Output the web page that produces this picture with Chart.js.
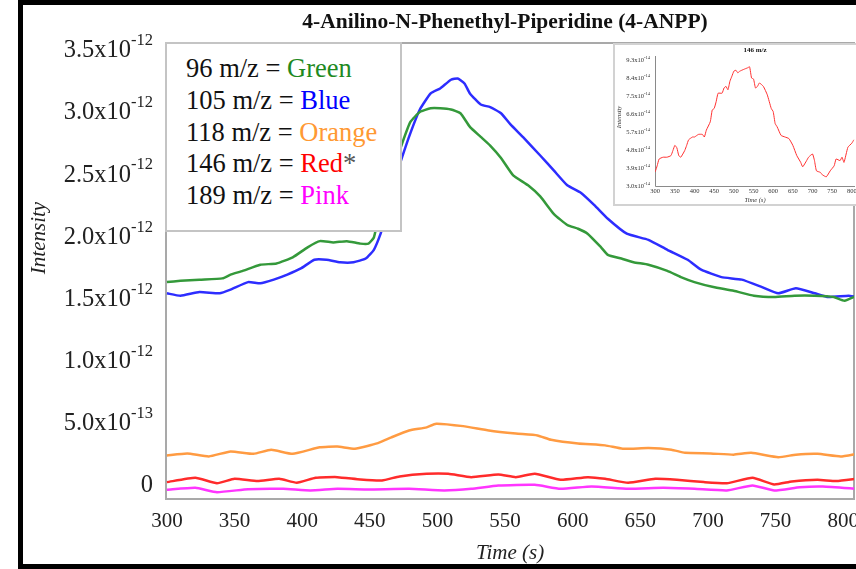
<!DOCTYPE html>
<html>
<head>
<meta charset="utf-8">
<script src="https://cdn.jsdelivr.net/npm/chart.js@4.4.1/dist/chart.umd.min.js"></script>
<style>
  html, body { margin: 0; padding: 0; background: #fff; overflow: hidden; }
  #wrap { position: relative; width: 856px; height: 569px; overflow: hidden; }
  #frame { position: absolute; left: 18px; top: 0px; width: 900px; height: 559px; border: 5px solid #000; }
  #main { position: absolute; left: 0; top: 0; }
  #key { position: absolute; left: 165px; top: 42px; width: 233px; height: 177px; border: 2px solid #c4c4c4; background: #fff;
         font-family: 'Liberation Serif', serif; font-size: 26.5px; color: #111; padding-top: 9px; box-sizing: content-box; }
  #key div { margin-left: 19px; line-height: 31.8px; height: 31.8px; white-space: nowrap; }
  #inset { position: absolute; left: 613px; top: 43px; width: 241px; height: 159px; border: 2px solid #d2d2d2; background: #fff; }
</style>
</head>
<body>
<div id="wrap">
  <canvas id="main" width="856" height="569"></canvas>
  <div id="frame"></div>
  <div id="key"></div>
  <div id="inset"><canvas id="small" width="241" height="159"></canvas></div>
</div>
<script>
// values, intensity in units of 1e-12
const t96 = [300, 310, 324, 341, 347, 356, 369, 381, 393, 404, 413, 423, 433, 443, 449, 453, 456, 462, 468, 474, 480, 487, 495, 502, 510, 517, 524, 532, 539, 547, 556, 567, 576, 586, 596, 604, 611, 621, 626, 636, 645, 656, 670, 680, 690, 704, 719, 734, 749, 764, 779, 793, 801, 810];
const i96 = [1.63, 1.64, 1.65, 1.66, 1.69, 1.72, 1.77, 1.78, 1.83, 1.91, 1.96, 1.95, 1.96, 1.94, 1.94, 1.99, 2.13, 2.30, 2.55, 2.75, 2.92, 3.00, 3.03, 3.03, 3.02, 2.99, 2.88, 2.80, 2.73, 2.63, 2.49, 2.41, 2.32, 2.18, 2.09, 2.06, 2.02, 1.91, 1.85, 1.82, 1.79, 1.77, 1.72, 1.67, 1.63, 1.59, 1.56, 1.52, 1.51, 1.52, 1.52, 1.51, 1.48, 1.52];

const t105 = [300, 310, 324, 339, 347, 360, 369, 379, 389, 399, 409, 418, 428, 438, 447, 453, 458, 461, 467, 474, 480, 487, 495, 502, 510, 515, 520, 524, 532, 539, 547, 554, 564, 576, 586, 596, 606, 616, 626, 640, 656, 670, 685, 695, 710, 725, 740, 752, 765, 779, 789, 804, 810];
const i105 = [1.54, 1.52, 1.55, 1.54, 1.57, 1.63, 1.62, 1.65, 1.69, 1.74, 1.81, 1.81, 1.79, 1.79, 1.82, 1.89, 2.02, 2.13, 2.40, 2.64, 2.83, 3.02, 3.15, 3.19, 3.26, 3.27, 3.23, 3.15, 3.06, 3.04, 2.99, 2.90, 2.79, 2.65, 2.53, 2.41, 2.35, 2.25, 2.14, 2.02, 1.97, 1.89, 1.81, 1.73, 1.67, 1.65, 1.59, 1.54, 1.58, 1.54, 1.51, 1.52, 1.51];

const t118 = [300, 315, 331, 347, 364, 377, 393, 413, 426, 439, 456, 466, 479, 492, 499, 519, 538, 558, 574, 584, 604, 624, 637, 656, 673, 683, 702, 719, 732, 752, 765, 781, 798, 810];
const i118 = [0.234, 0.25, 0.226, 0.266, 0.247, 0.28, 0.247, 0.30, 0.306, 0.288, 0.333, 0.38, 0.435, 0.46, 0.49, 0.47, 0.435, 0.41, 0.395, 0.36, 0.33, 0.315, 0.288, 0.293, 0.28, 0.255, 0.25, 0.24, 0.255, 0.22, 0.24, 0.247, 0.226, 0.247];

const t146 = [300, 321, 337, 350, 367, 383, 396, 410, 426, 443, 459, 472, 492, 508, 525, 545, 558, 572, 591, 611, 624, 641, 661, 677, 697, 714, 733, 749, 762, 781, 795, 810];
const i146 = [0.019, 0.054, 0.01, 0.046, 0.027, 0.046, 0.014, 0.054, 0.059, 0.04, 0.032, 0.065, 0.086, 0.086, 0.059, 0.081, 0.059, 0.086, 0.038, 0.059, 0.046, 0.014, 0.046, 0.038, 0.019, 0.01, 0.054, 0, 0.024, 0.038, 0.027, 0.046];

const t189 = [300, 321, 337, 360, 386, 406, 426, 449, 479, 505, 525, 545, 572, 591, 614, 641, 667, 690, 714, 733, 749, 768, 785, 810];
const i189 = [-0.043, -0.027, -0.062, -0.038, -0.035, -0.048, -0.035, -0.04, -0.035, -0.048, -0.035, -0.008, -0.003, -0.035, -0.016, -0.035, -0.027, -0.035, -0.048, -0.008, -0.048, -0.022, -0.016, -0.035];

// inset: 146 m/z alone, intensity in units of 1e-14
const tInset = [300, 305, 310, 320, 330, 340, 345, 350, 355, 360, 365, 375, 380, 385, 395, 400, 410, 420, 425, 430, 440, 445, 450, 455, 460, 470, 475, 480, 485, 490, 495, 500, 505, 510, 515, 525, 535, 540, 545, 550, 555, 560, 565, 575, 585, 595, 600, 605, 610, 620, 630, 640, 650, 660, 670, 675, 685, 690, 700, 705, 710, 720, 725, 735, 745, 755, 760, 770, 775, 780, 790, 800, 805];
const iInset = [3.71, 4.01, 4.35, 4.44, 4.44, 4.52, 4.77, 5.03, 4.91, 4.52, 4.44, 4.77, 5.03, 5.31, 5.45, 5.45, 5.58, 5.58, 5.45, 5.79, 6.21, 6.80, 6.88, 7.22, 7.64, 7.64, 7.90, 7.98, 7.81, 8.24, 8.49, 8.74, 8.79, 8.66, 8.74, 8.83, 8.91, 8.96, 8.40, 8.35, 7.90, 7.98, 8.15, 7.98, 7.56, 6.88, 6.72, 6.12, 5.96, 5.53, 5.45, 5.37, 5.03, 4.52, 4.18, 3.96, 4.27, 4.44, 4.60, 4.27, 3.76, 3.68, 3.56, 3.46, 3.76, 4.01, 4.35, 4.27, 4.44, 4.18, 4.94, 5.14, 5.31];

const xTicks = [300, 350, 400, 450, 500, 550, 600, 650, 700, 750, 800];
const yTicks = [0, 0.5, 1.0, 1.5, 2.0, 2.5, 3.0, 3.5];
const yTickLabels = ['0', '5.0x10|-13', '1.0x10|-12', '1.5x10|-12', '2.0x10|-12', '2.5x10|-12', '3.0x10|-12', '3.5x10|-12'];
const insetYTicks = [3.0, 3.9, 4.8, 5.7, 6.6, 7.5, 8.4, 9.3];
const insetYTickLabels = ['3.0x10|-14', '3.9x10|-14', '4.8x10|-14', '5.7x10|-14', '6.6x10|-14', '7.5x10|-14', '8.4x10|-14', '9.3x10|-14'];

const keyRows = [
  ['96 m/z = ', 'Green', '#1f8a1f', ''],
  ['105 m/z = ', 'Blue', '#0000ff', ''],
  ['118 m/z = ', 'Orange', '#ff9933', ''],
  ['146 m/z = ', 'Red', '#ff0000', '*'],
  ['189 m/z = ', 'Pink', '#ff00ff', '']
];
const lineColors = ['#34993a', '#2d2dff', '#ff9b42', '#ff2b2b', '#ff35ff'];

const SERIF = '"Liberation Serif", "Times New Roman", serif';

// key box text
const key = document.getElementById('key');
keyRows.forEach(r => {
  const row = document.createElement('div');
  row.innerHTML = r[0] + '<span style="color:' + r[2] + '">' + r[1] + '</span>' +
    (r[3] ? '<span style="color:#555">' + r[3] + '</span>' : '');
  key.appendChild(row);
});

function series(t, v, color, width) {
  return {
    data: t.map((x, i) => ({ x: x, y: v[i] })),
    borderColor: color,
    borderWidth: width,
    pointRadius: 0,
    tension: 0.15,
    fill: false
  };
}

// draws a label like 3.5x10^-12 with a raised exponent
function expLabel(ctx, text, xr, py, big, small, rise) {
  const [m, e] = text.split('|');
  ctx.textAlign = 'right';
  ctx.textBaseline = 'middle';
  if (e) {
    ctx.font = small + 'px ' + SERIF;
    ctx.fillText(e, xr, py - rise);
    xr -= ctx.measureText(e).width;
  }
  ctx.font = big + 'px ' + SERIF;
  ctx.fillText(m, xr, py);
}

const mainDecor = {
  id: 'mainDecor',
  beforeDatasetsDraw(chart) {
    const { ctx, chartArea: a } = chart;
    ctx.save();
    ctx.strokeStyle = '#a9a9a9';
    ctx.lineWidth = 2;
    ctx.strokeRect(a.left, a.top, a.right - a.left, a.bottom - a.top);
    ctx.restore();
  },
  afterDraw(chart) {
    const { ctx, chartArea: a, scales } = chart;
    ctx.save();
    ctx.fillStyle = '#222';
    yTicks.forEach((v, i) => {
      expLabel(ctx, yTickLabels[i], 153, scales.y.getPixelForValue(v) + 1, 24.5, 16.5, 10);
    });
    ctx.textAlign = 'center';
    ctx.textBaseline = 'middle';
    ctx.fillStyle = '#111';
    ctx.font = 'bold 21.5px ' + SERIF;
    ctx.fillText('4-Anilino-N-Phenethyl-Piperidine (4-ANPP)', 505, 22);
    ctx.translate(39, 238);
    ctx.rotate(-Math.PI / 2);
    ctx.fillStyle = '#222';
    ctx.font = 'italic 21px ' + SERIF;
    ctx.fillText('Intensity', 0, 0);
    ctx.restore();
  }
};

new Chart(document.getElementById('main'), {
  type: 'line',
  data: {
    datasets: [
      series(t96, i96, lineColors[0], 2.5),
      series(t105, i105, lineColors[1], 2.5),
      series(t118, i118, lineColors[2], 2.5),
      series(t146, i146, lineColors[3], 2.5),
      series(t189, i189, lineColors[4], 2.5)
    ]
  },
  options: {
    responsive: false,
    animation: false,
    layout: { padding: { top: 43, right: 2, left: 0, bottom: 0 } },
    plugins: { legend: { display: false }, tooltip: { enabled: false }, title: { display: false } },
    scales: {
      x: {
        type: 'linear',
        min: 299.3,
        max: 808,
        afterBuildTicks: s => { s.ticks = xTicks.map(v => ({ value: v })); },
        afterFit: s => { s.height = 70; s.paddingLeft = 0; s.paddingRight = 0; },
        grid: { display: false, drawTicks: false },
        border: { display: false },
        ticks: { padding: 10, autoSkip: false, maxRotation: 0, color: '#222', font: { family: SERIF, size: 21 } },
        title: { display: true, text: 'Time (s)', color: '#222', padding: { top: 0, bottom: 3 },
                 font: { family: SERIF, size: 21, style: 'italic' } }
      },
      y: {
        min: -0.117,
        max: 3.556,
        afterBuildTicks: s => { s.ticks = yTicks.map(v => ({ value: v })); },
        afterFit: s => { s.width = 166; },
        grid: { display: false },
        border: { display: false },
        ticks: { display: false }
      }
    }
  },
  plugins: [mainDecor]
});

// inset chart
const insetDecor = {
  id: 'insetDecor',
  beforeDatasetsDraw(chart) {
    const { ctx, chartArea: a } = chart;
    ctx.save();
    ctx.strokeStyle = '#8a8a8a';
    ctx.lineWidth = 1;
    ctx.beginPath();
    ctx.moveTo(a.left + 0.5, a.top);
    ctx.lineTo(a.left + 0.5, a.bottom + 0.5);
    ctx.lineTo(a.right, a.bottom + 0.5);
    ctx.stroke();
    ctx.restore();
  },
  afterDraw(chart) {
    const { ctx, chartArea: a, scales } = chart;
    ctx.save();
    ctx.fillStyle = '#333';
    insetYTicks.forEach((v, i) => {
      expLabel(ctx, insetYTickLabels[i], 35, scales.y.getPixelForValue(v), 6.5, 4.5, 2.5);
    });
    ctx.textAlign = 'center';
    ctx.textBaseline = 'middle';
    ctx.fillStyle = '#111';
    ctx.font = 'bold 7px ' + SERIF;
    ctx.fillText('146 m/z', (a.left + a.right) / 2, 5);
    ctx.translate(4, 72);
    ctx.rotate(-Math.PI / 2);
    ctx.fillStyle = '#333';
    ctx.font = 'italic 6.5px ' + SERIF;
    ctx.fillText('Intensity', 0, 0);
    ctx.restore();
  }
};

new Chart(document.getElementById('small'), {
  type: 'line',
  data: { datasets: [series(tInset, iInset, '#ff3030', 1)] },
  options: {
    responsive: false,
    animation: false,
    layout: { padding: { top: 11, right: 1, left: 0, bottom: 0 } },
    plugins: { legend: { display: false }, tooltip: { enabled: false } },
    scales: {
      x: {
        type: 'linear',
        min: 299.5,
        max: 808,
        afterBuildTicks: s => { s.ticks = xTicks.map(v => ({ value: v })); },
        afterFit: s => { s.height = 18; s.paddingLeft = 0; s.paddingRight = 0; },
        grid: { display: false, drawTicks: false },
        border: { display: false },
        ticks: { padding: 1, autoSkip: false, maxRotation: 0, color: '#333', font: { family: SERIF, size: 6.5 } },
        title: { display: true, text: 'Time (s)', color: '#333', padding: { top: 0, bottom: 0 },
                 font: { family: SERIF, size: 6.5, style: 'italic' } }
      },
      y: {
        min: 3.0,
        max: 9.5,
        afterBuildTicks: s => { s.ticks = insetYTicks.map(v => ({ value: v })); },
        afterFit: s => { s.width = 40; },
        grid: { display: false },
        border: { display: false },
        ticks: { display: false }
      }
    }
  },
  plugins: [insetDecor]
});
</script>
</body>
</html>
